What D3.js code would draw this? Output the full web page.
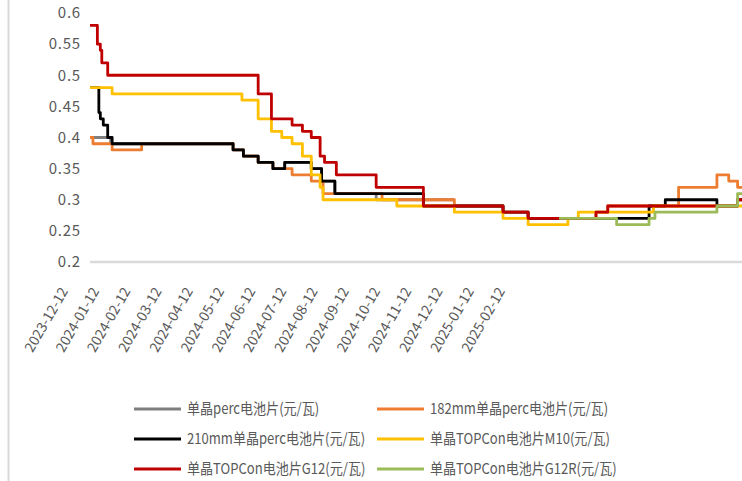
<!DOCTYPE html>
<html>
<head>
<meta charset="utf-8">
<script src="https://cdn.jsdelivr.net/npm/d3@7"></script>
<style>
  html, body { margin: 0; padding: 0; background: #ffffff; }
  svg { display: block; }
  text { font-family: "Noto Sans CJK SC", "Noto Sans", sans-serif; fill: #595959; }
</style>
</head>
<body>
<svg id="chart" width="742" height="481"></svg>
<script>
// ---------------- data ----------------
const seriesNames = [
  "单晶perc电池片(元/瓦)",
  "182mm单晶perc电池片(元/瓦)",
  "210mm单晶perc电池片(元/瓦)",
  "单晶TOPCon电池片M10(元/瓦)",
  "单晶TOPCon电池片G12(元/瓦)",
  "单晶TOPCon电池片G12R(元/瓦)"
];
const seriesColors = ["#7f7f7f", "#ed7d31", "#000000", "#ffc000", "#c00000", "#9bbb59"];

const yTicks = [0.2, 0.25, 0.3, 0.35, 0.4, 0.45, 0.5, 0.55, 0.6];
const xTickLabels = [
  "2023-12-12", "2024-01-12", "2024-02-12", "2024-03-12", "2024-04-12",
  "2024-05-12", "2024-06-12", "2024-07-12", "2024-08-12", "2024-09-12",
  "2024-10-12", "2024-11-12", "2024-12-12", "2025-01-12", "2025-02-12"
];

// price change points (step series): [date, 元/瓦]
const percMono = [
  ["2023-12-12", 0.40], ["2023-12-26", 0.39], ["2024-03-18", 0.38], ["2024-03-25", 0.37],
  ["2024-04-04", 0.36], ["2024-04-14", 0.35], ["2024-04-22", 0.36], ["2024-05-10", 0.35],
  ["2024-05-17", 0.33], ["2024-05-26", 0.31], ["2024-06-23", 0.30], ["2024-08-15", 0.30]
];
const perc182 = [
  ["2023-12-12", 0.40], ["2023-12-14", 0.39], ["2023-12-27", 0.38], ["2024-01-16", 0.39],
  ["2024-03-18", 0.38], ["2024-03-25", 0.37], ["2024-04-04", 0.36], ["2024-04-14", 0.35],
  ["2024-04-27", 0.34], ["2024-05-10", 0.33], ["2024-05-18", 0.31], ["2024-06-27", 0.30],
  ["2024-08-15", 0.29], ["2024-09-17", 0.28], ["2024-10-04", 0.27], ["2024-11-19", 0.28],
  ["2024-11-27", 0.29], ["2025-01-14", 0.32], ["2025-02-09", 0.34], ["2025-02-17", 0.33],
  ["2025-02-23", 0.32], ["2025-02-28", 0.32]
];
const perc210 = [
  ["2023-12-12", 0.48], ["2023-12-18", 0.44], ["2023-12-19", 0.43], ["2023-12-21", 0.42],
  ["2023-12-24", 0.40], ["2023-12-27", 0.39], ["2024-03-18", 0.38], ["2024-03-25", 0.37],
  ["2024-04-04", 0.36], ["2024-04-14", 0.35], ["2024-04-22", 0.36], ["2024-05-10", 0.35],
  ["2024-05-17", 0.33], ["2024-05-26", 0.31], ["2024-07-25", 0.29], ["2024-09-17", 0.28],
  ["2024-10-04", 0.27], ["2024-12-25", 0.29], ["2025-01-05", 0.30], ["2025-02-09", 0.29],
  ["2025-02-23", 0.30], ["2025-02-28", 0.30]
];
const topconM10 = [
  ["2023-12-12", 0.48], ["2023-12-27", 0.47], ["2024-03-24", 0.46], ["2024-04-04", 0.43],
  ["2024-04-13", 0.41], ["2024-04-20", 0.40], ["2024-04-27", 0.39], ["2024-05-04", 0.37],
  ["2024-05-10", 0.34], ["2024-05-16", 0.32], ["2024-05-18", 0.30], ["2024-07-07", 0.29],
  ["2024-08-15", 0.28], ["2024-09-17", 0.27], ["2024-10-04", 0.26], ["2024-10-31", 0.27],
  ["2024-11-07", 0.28], ["2024-12-28", 0.29], ["2025-02-28", 0.29]
];
const topconG12 = [
  ["2023-12-12", 0.58], ["2023-12-17", 0.55], ["2023-12-19", 0.54], ["2023-12-20", 0.52],
  ["2023-12-24", 0.50], ["2024-04-04", 0.47], ["2024-04-13", 0.43], ["2024-04-27", 0.42],
  ["2024-05-04", 0.41], ["2024-05-10", 0.40], ["2024-05-16", 0.37], ["2024-05-19", 0.36],
  ["2024-05-27", 0.34], ["2024-06-23", 0.32], ["2024-07-25", 0.29], ["2024-09-17", 0.28],
  ["2024-10-04", 0.27], ["2024-11-19", 0.28], ["2024-11-27", 0.29], ["2025-02-23", 0.30],
  ["2025-02-28", 0.30]
];
const topconG12R = [
  ["2024-10-25", 0.27], ["2024-12-03", 0.26], ["2024-12-25", 0.27], ["2024-12-29", 0.28],
  ["2025-02-09", 0.29], ["2025-02-23", 0.31], ["2025-02-28", 0.31]
];
const seriesData = [percMono, perc182, perc210, topconM10, topconG12, topconG12R];

const xStart = "2023-12-12";
const xEnd = "2025-02-26";

// ---------------- chart ----------------
const parse = d3.timeParse("%Y-%m-%d");
const svg = d3.select("#chart");

const x = d3.scaleTime().domain([parse(xStart), parse(xEnd)]).range([90, 742]);
const y = d3.scaleLinear().domain([0.2, 0.6]).range([262, 13]);
const xLabel = d3.scalePoint().domain(xTickLabels).range([68, 505]);

// outer chart-area border (left edge visible)
svg.append("line")
  .attr("x1", 8.5).attr("x2", 8.5).attr("y1", 0).attr("y2", 481)
  .attr("stroke", "#d9d9d9").attr("stroke-width", 2);

// y axis labels
const yAxis = svg.append("g").attr("transform", "translate(81,0)")
  .call(d3.axisLeft(y).tickValues(yTicks).tickSize(0).tickPadding(0).tickFormat(d => String(+d.toFixed(2))));
yAxis.select(".domain").remove();
yAxis.selectAll("text")
  .style("font-family", "'Noto Sans CJK SC', sans-serif")
  .style("letter-spacing", "0.8px")
  .style("font-size", "15px").style("fill", "#595959");

// x axis line
svg.append("line")
  .attr("x1", x.range()[0]).attr("x2", x.range()[1])
  .attr("y1", y(0.2)).attr("y2", y(0.2))
  .attr("stroke", "#d9d9d9").attr("stroke-width", 2.5);

// x tick labels (rotated)
const xAxis = svg.append("g").attr("transform", "translate(0,291)")
  .call(d3.axisBottom(xLabel).tickSize(0));
xAxis.select(".domain").remove();
xAxis.selectAll("text")
  .attr("x", 0).attr("y", 0).attr("dy", 0)
  .attr("transform", "rotate(-60)")
  .attr("text-anchor", "end")
  .style("font-family", "'Noto Sans CJK SC', sans-serif")
  .style("font-size", "14px").style("fill", "#595959");

// lines
const line = d3.line()
  .x(d => x(parse(d[0])))
  .y(d => y(d[1]))
  .curve(d3.curveStepAfter);

svg.append("g").selectAll("path")
  .data(seriesData)
  .join("path")
  .attr("d", d => line(d))
  .attr("fill", "none")
  .attr("stroke", (d, i) => seriesColors[i])
  .attr("stroke-width", 2.8)
  .attr("stroke-linejoin", "round")
  .attr("stroke-linecap", "butt");

// legend
const legend = svg.append("g");
const legendItems = legend.selectAll("g")
  .data(seriesNames)
  .join("g")
  .attr("transform", (d, i) => `translate(${i % 2 === 0 ? 134 : 377},${409 + Math.floor(i / 2) * 30})`);
legendItems.append("line")
  .attr("x1", 0).attr("x2", 47).attr("y1", 0).attr("y2", 0)
  .attr("stroke", (d, i) => seriesColors[i]).attr("stroke-width", 3);
legendItems.append("text")
  .attr("x", 53).attr("y", 0).attr("dy", "0.36em")
  .style("font-size", "15px").style("fill", "#595959")
  .text(d => d)
  .each(function () {
    const w = this.getComputedTextLength();
    d3.select(this).attr("textLength", w * 0.87).attr("lengthAdjust", "spacingAndGlyphs");
  });
</script>
</body>
</html>
